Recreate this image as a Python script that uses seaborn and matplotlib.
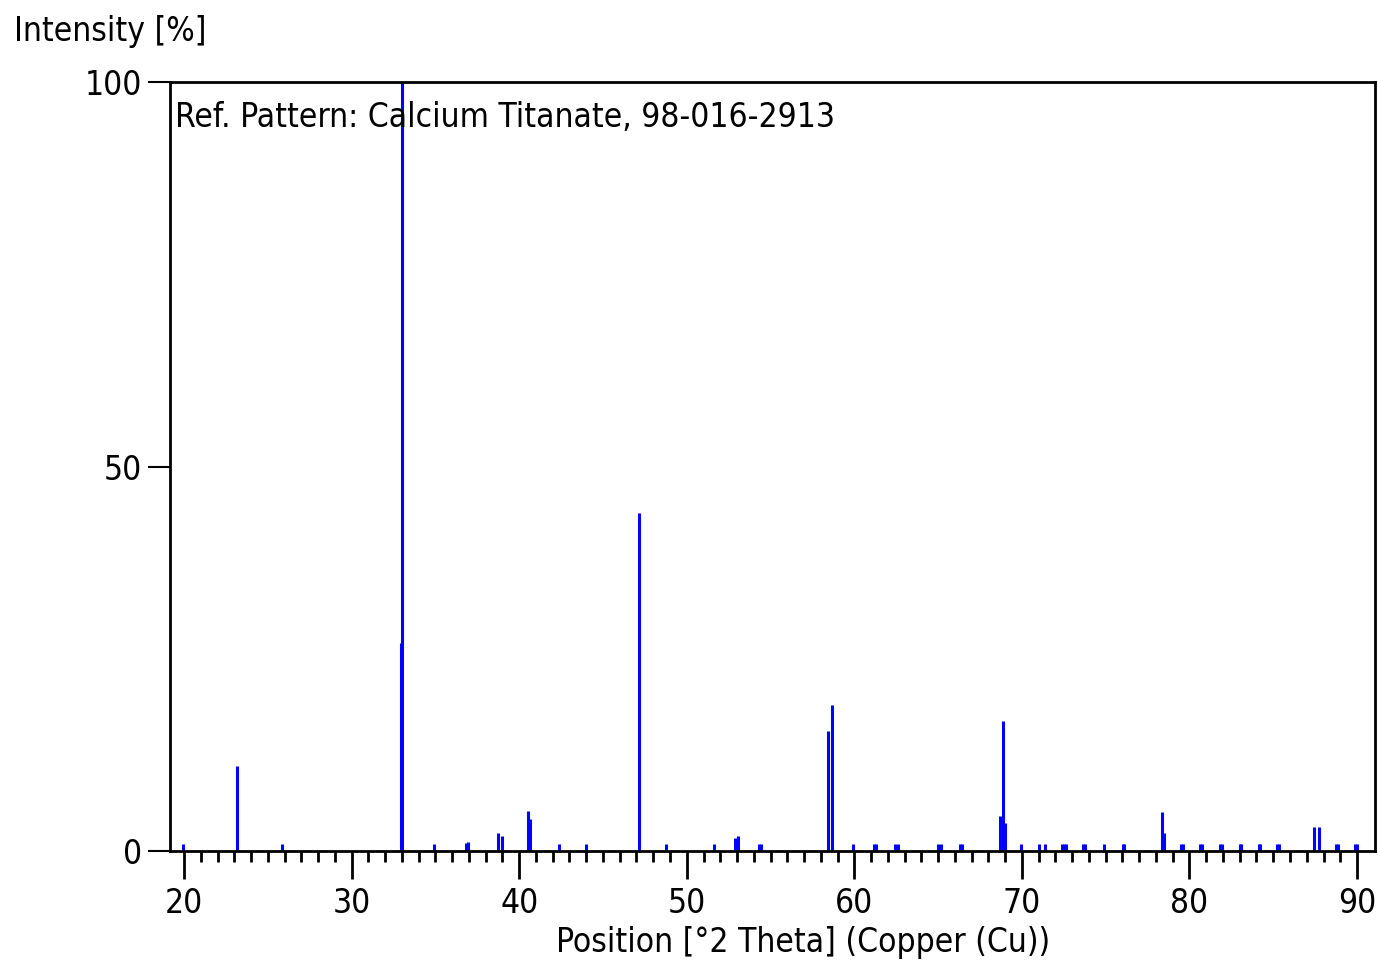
import seaborn as sns
import matplotlib.pyplot as plt
import pandas as pd

# stick pattern (2theta in degrees, relative intensity in %)
positions = [19.95, 23.16, 25.85, 32.93, 33.02, 34.92, 36.85, 36.95,
             38.76, 38.96, 40.51, 40.65, 42.40, 43.99, 47.17, 48.76,
             51.63, 52.88, 53.08, 54.30, 54.45, 58.45, 58.65, 59.94,
             61.15, 61.30, 62.45, 62.60, 65.00, 65.15, 66.28, 66.42,
             68.70, 68.85, 68.99, 69.95, 71.04, 71.38, 72.40, 72.52,
             72.62, 73.62, 73.74, 74.87, 76.02, 76.12, 78.39, 78.51,
             79.52, 79.64, 80.62, 80.72, 81.80, 81.96, 83.00, 83.10,
             84.12, 84.22, 85.25, 85.35, 87.43, 87.75, 88.72, 88.84,
             89.86, 89.98]
intensities = [0.9, 11.1, 0.9, 27.0, 100.0, 0.9, 1.0, 1.2,
               2.4, 2.0, 5.2, 4.1, 0.9, 0.9, 44.0, 0.9,
               0.9, 1.7, 2.0, 0.9, 0.9, 15.6, 19.0, 0.9,
               0.9, 0.9, 0.9, 0.9, 0.9, 0.9, 0.9, 0.9,
               4.5, 16.9, 3.7, 0.9, 0.9, 0.9, 0.9, 0.9,
               0.9, 0.9, 0.9, 0.9, 0.9, 0.9, 5.1, 2.4,
               0.9, 0.9, 0.9, 0.9, 0.9, 0.9, 0.9, 0.9,
               0.9, 0.9, 0.9, 0.9, 3.1, 3.1, 0.9, 0.9,
               0.9, 0.9]
x_ticks = [20, 30, 40, 50, 60, 70, 80, 90]
y_ticks = [0, 50, 100]

df = pd.DataFrame({'pos': positions, 'intensity': intensities})

sns.set_theme(style='ticks')
plt.rcParams['font.family'] = ['DejaVu Sans']
plt.rcParams['font.stretch'] = 'condensed'
fs = 24

fig = plt.figure(figsize=(13.78, 9.73), dpi=100)
ax = fig.add_axes([0.1234, 0.1254, 0.8744, 0.7903])

ax.vlines(df.pos, 0, df.intensity, color='#0000ff', linewidth=2.2)

ax.set_xlim(19.165, 91.07)
ax.set_ylim(0, 100)
ax.set_xticks(x_ticks)
ax.set_xticks(range(20, 91), minor=True)
ax.set_yticks(y_ticks)

ax.tick_params(axis='x', which='major', direction='out', length=20, width=2,
               labelsize=fs, pad=6, color='black', labelcolor='black')
ax.tick_params(axis='x', which='minor', direction='out', length=8, width=2,
               color='black')
ax.tick_params(axis='y', which='major', direction='out', length=16, width=1.5,
               labelsize=fs, pad=4, color='black', labelcolor='black')
for s in ax.spines.values():
    s.set_visible(True)
    s.set_linewidth(2)
    s.set_color('black')

ax.set_xlabel('Position [°2 Theta] (Copper (Cu))', fontsize=fs, color='black')
ax.xaxis.set_label_coords(0.525, -0.098)
fig.text(0.01, 0.985, 'Intensity [%]', fontsize=fs, va='top', ha='left', color='black')
ax.text(0.004, 0.975, 'Ref. Pattern: Calcium Titanate, 98-016-2913',
        transform=ax.transAxes, fontsize=fs, va='top', ha='left', color='black')

plt.savefig('out.png', dpi=100)
